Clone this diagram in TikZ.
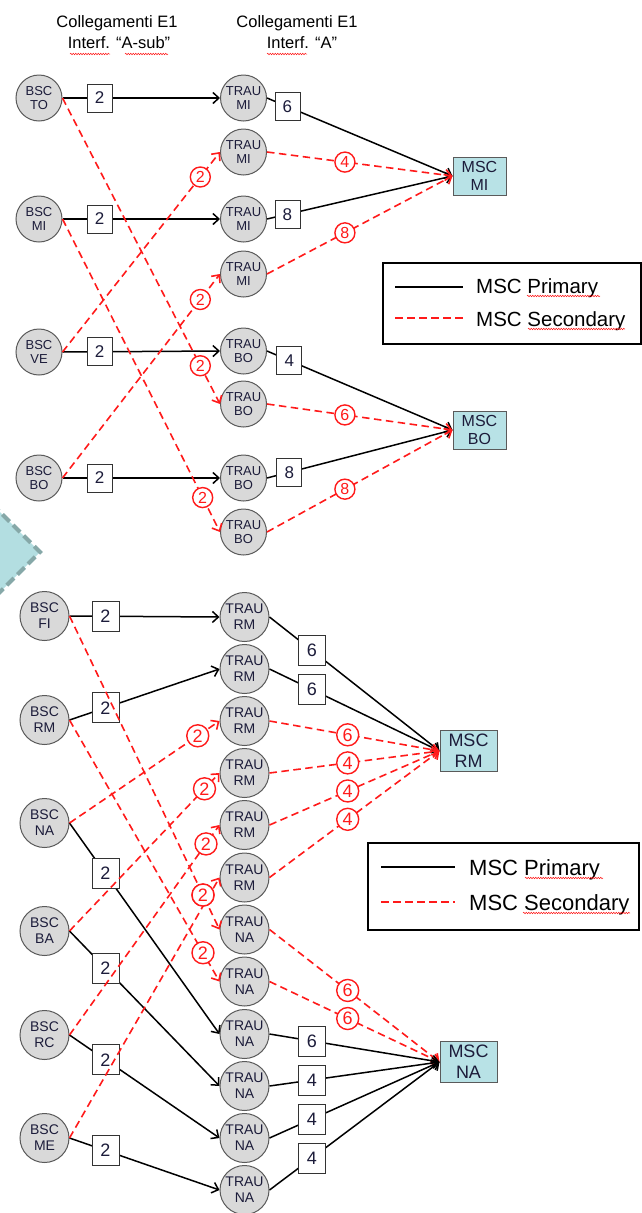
\documentclass[tikz,border=0pt]{standalone}
\usepackage{fontspec}
\setmainfont{Liberation Sans}
\usetikzlibrary{arrows.meta,decorations.pathmorphing}
\definecolor{nodefill}{HTML}{D9D9D9}
\definecolor{nodeline}{HTML}{5A5A5A}
\definecolor{mscfill}{HTML}{B8E2E6}
\definecolor{ntext}{HTML}{1C1C3A}
\definecolor{redl}{HTML}{FF1A1A}
\definecolor{diafill}{HTML}{B3DEE1}
\definecolor{diadraw}{HTML}{86A8A8}
\begin{document}
\begin{tikzpicture}[x=1pt,y=-1pt,
  bscA/.style={circle, solid, draw=nodeline, line width=1pt, fill=nodefill, minimum size=46pt, inner sep=0pt, align=center, text=ntext, font=\fontsize{13}{14.5}\selectfont},
  bscB/.style={bscA, minimum size=49pt, font=\fontsize{14}{16}\selectfont},
  mscA/.style={rectangle, solid, draw=nodeline, line width=1pt, fill=mscfill, minimum width=53pt, minimum height=38pt, inner sep=0pt, align=center, text=ntext, font=\fontsize{16}{18}\selectfont},
  mscB/.style={mscA, minimum width=57pt, minimum height=41pt, font=\fontsize{18}{21}\selectfont},
  numA/.style={rectangle, solid, draw=black!80, line width=0.8pt, fill=white, minimum width=25pt, minimum height=28pt, inner sep=0pt, text=ntext, font=\fontsize{17}{17}\selectfont},
  numB/.style={numA, minimum width=27pt, minimum height=30pt, font=\fontsize{18}{18}\selectfont},
  redA/.style={circle, solid, draw=redl, line width=1.4pt, fill=white, minimum size=20pt, inner sep=0pt, text=redl, font=\fontsize{16}{16}\selectfont},
  redB/.style={redA, minimum size=22pt, font=\fontsize{18}{18}\selectfont},
  pri/.style={draw=black, line width=1.5pt, -{Straight Barb[length=6pt,width=11pt]}},
  sec/.style={draw=redl, line width=1.6pt, dash pattern=on 7.5pt off 4.5pt, -{Straight Barb[length=6pt,width=11pt]}},
  legline/.style={draw=black, line width=1.5pt},
  legdash/.style={draw=redl, line width=1.6pt, dash pattern=on 7.5pt off 4.5pt},
  hdr/.style={font=\fontsize{16.5}{18}\selectfont, inner sep=0pt},
  legA/.style={font=\fontsize{20.5}{22}\selectfont, inner sep=0pt, anchor=base west},
  legB/.style={font=\fontsize{22}{24}\selectfont, inner sep=0pt, anchor=base west},
  wavy/.style={draw=redl, line width=0.5pt, decorate, decoration={snake, amplitude=0.8pt, segment length=2.5pt}}
]
\useasboundingbox (0,0) rectangle (642,1213);

% decorative diamond
\begin{scope}
\clip (0,0) rectangle (642,1213);
\filldraw[fill=diafill, draw=diadraw, line width=4pt, dash pattern=on 10pt off 5pt] (-40,472) -- (40,552) -- (-40,632) -- cycle;
\end{scope}

% headers
\node[hdr, anchor=base] (h1a) at (117,27) {Collegamenti E1};
\node[hdr, anchor=base] (h1b) at (119,48) {Interf. “A-sub”};
\node[hdr, anchor=base] (h2a) at (297,27) {Collegamenti E1};
\node[hdr, anchor=base] (h2b) at (302,48) {Interf. “A”};
\draw[wavy] (70,54) -- (110,54);
\draw[wavy] (125,54) -- (168,54);
\draw[wavy] (267,54) -- (307,54);

% ---------- top section ----------
\node[bscA] (bTO) at (39,98) {BSC\\TO};
\node[bscA] (bMI) at (39,219) {BSC\\MI};
\node[bscA] (bVE) at (39,352) {BSC\\VE};
\node[bscA] (bBO) at (39,478) {BSC\\BO};

\node[bscA] (t1) at (243.5,98) {TRAU\\MI};
\node[bscA] (t2) at (243.5,152) {TRAU\\MI};
\node[bscA] (t3) at (243.5,219) {TRAU\\MI};
\node[bscA] (t4) at (243.5,274) {TRAU\\MI};
\node[bscA] (t5) at (243.5,351) {TRAU\\BO};
\node[bscA] (t6) at (243.5,404) {TRAU\\BO};
\node[bscA] (t7) at (243.5,478) {TRAU\\BO};
\node[bscA] (t8) at (243.5,532) {TRAU\\BO};

\node[mscA] (mMI) at (479.5,176) {MSC\\MI};
\node[mscA] (mBO) at (479.5,430) {MSC\\BO};

\draw[pri] (bTO.east) -- node[numA,pos=0.235] (n1) {2} (t1.west);
\draw[pri] (bMI.east) -- node[numA,pos=0.235] (n2) {2} (t3.west);
\draw[pri] (bVE.east) -- node[numA,pos=0.235] (n3) {2} (t5.west);
\draw[pri] (bBO.east) -- node[numA,pos=0.235] (n4) {2} (t7.west);

\draw[sec] (bTO.east) -- node[redA,pos=0.875] (r1) {2} (t6.west);
\draw[sec] (bMI.east) -- node[redA,pos=0.89] (r2) {2} (t8.west);
\draw[sec] (bVE.east) -- node[redA,pos=0.875] (r3) {2} (t2.west);
\draw[sec] (bBO.east) -- node[redA,pos=0.875] (r4) {2} (t4.west);

\draw[pri] (t1.east) -- node[numA,pos=0.11] (n5) {6} (mMI.west);
\draw[pri] (t3.east) -- node[numA,pos=0.11] (n6) {8} (mMI.west);
\draw[pri] (t5.east) -- node[numA,pos=0.12] (n7) {4} (mBO.west);
\draw[pri] (t7.east) -- node[numA,pos=0.12] (n8) {8} (mBO.west);
\draw[sec] (t2.east) -- node[redA,pos=0.42] (r5) {4} (mMI.west);
\draw[sec] (t4.east) -- node[redA,pos=0.42] (r6) {8} (mMI.west);
\draw[sec] (t6.east) -- node[redA,pos=0.42] (r7) {6} (mBO.west);
\draw[sec] (t8.east) -- node[redA,pos=0.42] (r8) {8} (mBO.west);

% legend 1
\node[draw=black, line width=1.8pt, minimum width=258pt, minimum height=81pt, anchor=north west, inner sep=0pt] (leg1) at (382,262) {};
\coordinate (l1a) at (395,287); \coordinate (l1b) at (463,287);
\coordinate (l1c) at (395,318); \coordinate (l1d) at (463,318);
\draw[legline] (l1a) -- (l1b);
\draw[legdash] (l1c) -- (l1d);
\node[legA] (l1p) at (476,293) {MSC Primary};
\node[legA] (l1s) at (476,326) {MSC Secondary};
\draw[wavy] (527,296) -- (600,296);
\draw[wavy] (528,329) -- (625,329);

% ---------- bottom section ----------
\node[bscB] (bFI) at (44.5,616) {BSC\\FI};
\node[bscB] (bRM) at (44.5,720) {BSC\\RM};
\node[bscB] (bNA) at (44.5,823) {BSC\\NA};
\node[bscB] (bBA) at (44.5,931) {BSC\\BA};
\node[bscB] (bRC) at (44.5,1035) {BSC\\RC};
\node[bscB] (bME) at (44.5,1138) {BSC\\ME};

\node[bscB] (u1) at (244.5,617) {TRAU\\RM};
\node[bscB] (u2) at (244.5,669) {TRAU\\RM};
\node[bscB] (u3) at (244.5,721) {TRAU\\RM};
\node[bscB] (u4) at (244.5,773) {TRAU\\RM};
\node[bscB] (u5) at (244.5,825) {TRAU\\RM};
\node[bscB] (u6) at (244.5,877.5) {TRAU\\RM};
\node[bscB] (u7) at (244.5,929.5) {TRAU\\NA};
\node[bscB] (u8) at (244.5,981.5) {TRAU\\NA};
\node[bscB] (u9) at (244.5,1034) {TRAU\\NA};
\node[bscB] (u10) at (244.5,1086) {TRAU\\NA};
\node[bscB] (u11) at (244.5,1138) {TRAU\\NA};
\node[bscB] (u12) at (244.5,1190) {TRAU\\NA};

\node[mscB] (mRM) at (468.5,751) {MSC\\RM};
\node[mscB] (mNA) at (468.5,1062) {MSC\\NA};

\draw[pri] (bFI.east) -- node[numB,pos=0.24] (p1) {2} (u1.west);
\draw[pri] (bRM.east) -- node[numB,pos=0.24] (p2) {2} (u2.west);
\draw[pri] (bNA.east) -- node[numB,pos=0.24] (p3) {2} (u9.west);
\draw[pri] (bBA.east) -- node[numB,pos=0.24] (p4) {2} (u10.west);
\draw[pri] (bRC.east) -- node[numB,pos=0.24] (p5) {2} (u11.west);
\draw[pri] (bME.east) -- node[numB,pos=0.24] (p6) {2} (u12.west);

\draw[sec] (bME.east) -- (u6.west);
\draw[sec] (bFI.east) -- node[redB,pos=0.89] (q1) {2} (u7.west);
\node[redB] (q6) at (q1) {2};
\draw[sec] (bRM.east) -- node[redB,pos=0.89] (q2) {2} (u8.west);
\draw[sec] (bNA.east) -- node[redB,pos=0.855] (q3) {2} (u3.west);
\draw[sec] (bBA.east) -- node[redB,pos=0.9] (q4) {2} (u4.west);
\draw[sec] (bRC.east) -- node[redB,pos=0.91] (q5) {2} (u5.west);

\draw[pri] (u1.east) -- node[numB,pos=0.25] (p7) {6} (mRM.west);
\draw[pri] (u2.east) -- node[numB,pos=0.25] (p8) {6} (mRM.west);
\draw[sec] (u3.east) -- node[redB,pos=0.46] (q7) {6} (mRM.west);
\draw[sec] (u4.east) -- node[redB,pos=0.46] (q8) {4} (mRM.west);
\draw[sec] (u5.east) -- node[redB,pos=0.46] (q9) {4} (mRM.west);
\draw[sec] (u6.east) -- node[redB,pos=0.46] (q10) {4} (mRM.west);

\draw[sec] (u7.east) -- node[redB,pos=0.46] (q11) {6} (mNA.west);
\draw[sec] (u8.east) -- node[redB,pos=0.46] (q12) {6} (mNA.west);
\draw[pri] (u9.east) -- node[numB,pos=0.25] (p9) {6} (mNA.west);
\draw[pri] (u10.east) -- node[numB,pos=0.25] (p10) {4} (mNA.west);
\draw[pri] (u11.east) -- node[numB,pos=0.25] (p11) {4} (mNA.west);
\draw[pri] (u12.east) -- node[numB,pos=0.25] (p12) {4} (mNA.west);

% legend 2
\node[draw=black, line width=1.8pt, minimum width=271pt, minimum height=87pt, anchor=north west, inner sep=0pt] (leg2) at (367,842) {};
\coordinate (l2a) at (381,867); \coordinate (l2b) at (455,867);
\coordinate (l2c) at (381,902); \coordinate (l2d) at (455,902);
\draw[legline] (l2a) -- (l2b);
\draw[legdash] (l2c) -- (l2d);
\node[legB] (l2p) at (469,875) {MSC Primary};
\node[legB] (l2s) at (469,910) {MSC Secondary};
\draw[wavy] (525,878) -- (603,878);
\draw[wavy] (523,913) -- (630,913);
\end{tikzpicture}
\end{document}
